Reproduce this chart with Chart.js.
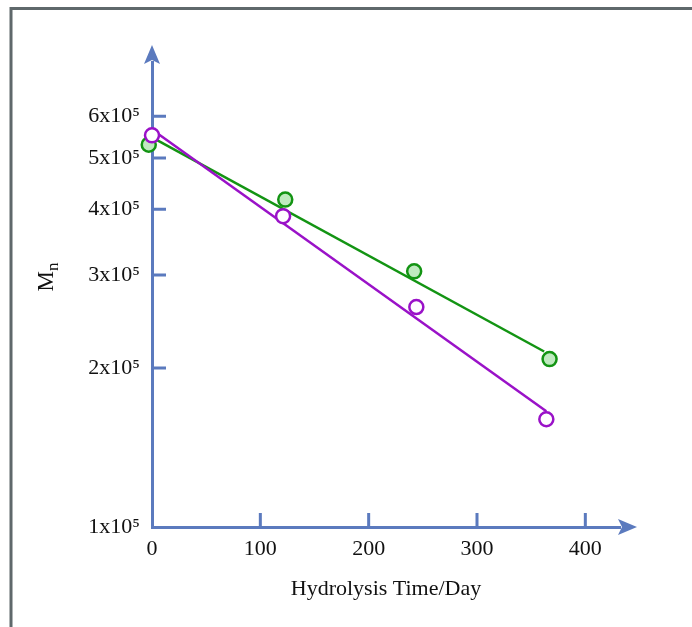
<!DOCTYPE html>
<html><head><meta charset="utf-8">
<script src="https://cdn.jsdelivr.net/npm/chart.js@4"></script>
<style>html,body{margin:0;padding:0;background:#fff}</style>
</head><body>
<canvas id="c" width="692" height="627" style="display:block;width:692px;height:627px"></canvas>
<script>
// ---- data ----
const xTickValues = [0, 100, 200, 300, 400];
const yTickValues = [1e5, 2e5, 3e5, 4e5, 5e5, 6e5];
const yTickLabels = ["1x10⁵", "2x10⁵", "3x10⁵", "4x10⁵", "5x10⁵", "6x10⁵"];
const greenDays = [-3, 123, 242, 367];
const greenMn = [5.30e5, 4.17e5, 3.05e5, 2.08e5];
const purpleDays = [0, 121, 244, 364];
const purpleMn = [5.52e5, 3.88e5, 2.61e5, 1.60e5];
const greenFitDays = [0, 362];
const greenFitMn = [5.47e5, 2.15e5];
const purpleFitDays = [0, 364];
const purpleFitMn = [5.66e5, 1.656e5];
const xTitle = "Hydrolysis Time/Day";
const yTitleMain = "M";
const yTitleSub = "n";

const AXIS = "#5b7abe";
const GREEN = "#139413";
const GREEN_FILL = "#bfeabf";
const PURPLE = "#9a12c8";
const FONT = "'Liberation Serif', 'Times New Roman', serif";

const pts = (xs, ys) => xs.map((x, i) => ({x, y: ys[i]}));

const decor = {
  id: 'decor',
  beforeDraw(chart) {
    const ctx = chart.ctx;
    ctx.save();
    ctx.strokeStyle = '#5f686b';
    ctx.lineWidth = 3;
    ctx.beginPath();
    ctx.moveTo(11, 627);
    ctx.lineTo(11, 8.5);
    ctx.lineTo(692, 8.5);
    ctx.stroke();
    ctx.restore();
  },
  afterDraw(chart) {
    const ctx = chart.ctx;
    const {left, right, top, bottom} = chart.chartArea;
    const xs = chart.scales.x, ys = chart.scales.y;
    ctx.save();
    ctx.strokeStyle = AXIS;
    ctx.fillStyle = AXIS;
    ctx.lineWidth = 3;
    ctx.beginPath();
    yTickValues.slice(1).forEach(v => {
      const p = ys.getPixelForValue(v);
      ctx.moveTo(left, p); ctx.lineTo(left + 14, p);
    });
    xTickValues.slice(1).forEach(v => {
      const p = xs.getPixelForValue(v);
      ctx.moveTo(p, bottom); ctx.lineTo(p, bottom - 14);
    });
    ctx.stroke();
    // arrows
    ctx.beginPath();
    ctx.moveTo(left, top - 17);
    ctx.lineTo(left + 8, top + 2);
    ctx.lineTo(left, top - 2);
    ctx.lineTo(left - 8, top + 2);
    ctx.closePath();
    ctx.fill();
    ctx.beginPath();
    ctx.moveTo(right + 17, bottom);
    ctx.lineTo(right - 2, bottom - 8);
    ctx.lineTo(right + 2, bottom);
    ctx.lineTo(right - 2, bottom + 8);
    ctx.closePath();
    ctx.fill();
    // y axis title M with subscript n, rotated
    ctx.translate(53, 277);
    ctx.rotate(-Math.PI / 2);
    ctx.fillStyle = '#111';
    ctx.textBaseline = 'alphabetic';
    ctx.font = "23px " + FONT;
    const wM = ctx.measureText(yTitleMain).width;
    ctx.font = "17px " + FONT;
    const wn = ctx.measureText(yTitleSub).width;
    const x0 = -(wM + wn) / 2;
    ctx.font = "23px " + FONT;
    ctx.fillText(yTitleMain, x0, 0);
    ctx.font = "17px " + FONT;
    ctx.fillText(yTitleSub, x0 + wM, 5);
    ctx.restore();
  }
};

new Chart(document.getElementById('c'), {
  type: 'scatter',
  data: {
    datasets: [
      { data: pts(greenFitDays, greenFitMn), showLine: true, borderColor: GREEN, borderWidth: 2.5, pointRadius: 0, order: 3, clip: false },
      { data: pts(purpleFitDays, purpleFitMn), showLine: true, borderColor: PURPLE, borderWidth: 2.5, pointRadius: 0, order: 2, clip: false },
      { data: pts(greenDays, greenMn), showLine: false, borderColor: GREEN, backgroundColor: GREEN_FILL, borderWidth: 2.5, pointRadius: 7, order: 1, clip: false },
      { data: pts(purpleDays, purpleMn), showLine: false, borderColor: PURPLE, backgroundColor: '#ffffff', borderWidth: 2.5, pointRadius: 7, order: 0, clip: false }
    ]
  },
  options: {
    responsive: false,
    animation: false,
    devicePixelRatio: 1,
    layout: { padding: { left: 0, right: 72, top: 62, bottom: 0 } },
    plugins: { legend: { display: false }, tooltip: { enabled: false } },
    scales: {
      x: {
        type: 'linear', min: 0, max: 432,
        afterBuildTicks: s => { s.ticks = xTickValues.map(v => ({value: v})); },
        afterFit: s => { s.height = 100; },
        grid: { display: false, drawTicks: false },
        border: { display: true, color: AXIS, width: 3 },
        ticks: { autoSkip: false, maxRotation: 0, padding: 9, color: '#111', font: { family: FONT, size: 22 } },
        title: { display: true, text: xTitle, color: '#111', font: { family: FONT, size: 22 }, padding: { top: 0, bottom: 25 } }
      },
      y: {
        type: 'logarithmic', min: 1e5, max: 7.6e5,
        afterBuildTicks: s => { s.ticks = yTickValues.map(v => ({value: v})); },
        afterFit: s => { s.width = 152; },
        grid: { display: false, drawTicks: false },
        border: { display: true, color: AXIS, width: 3 },
        ticks: { autoSkip: false, padding: 12, color: '#111', font: { family: FONT, size: 22 },
          callback: (v) => { const i = yTickValues.indexOf(v); return i >= 0 ? yTickLabels[i] : ''; } },
        title: { display: false }
      }
    }
  },
  plugins: [decor]
});
</script>
</body></html>
